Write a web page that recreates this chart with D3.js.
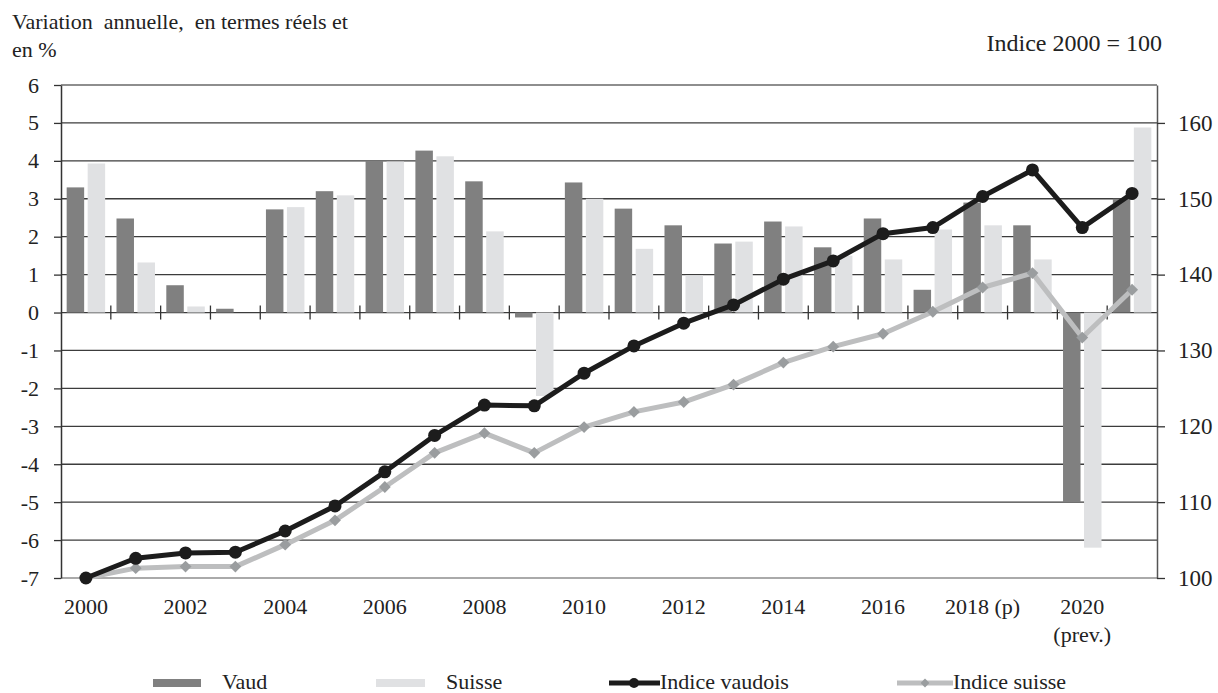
<!DOCTYPE html>
<html>
<head>
<meta charset="utf-8">
<script src="https://cdn.jsdelivr.net/npm/d3@7"></script>
<style>
  html, body { margin: 0; padding: 0; background: #fff; }
  svg { display: block; }
  text { font-family: "Liberation Serif", "Times New Roman", serif; fill: #222; }
</style>
</head>
<body>
<svg id="chart" width="1218" height="693"></svg>
<script>
// Annual real growth (%) and index 2000 = 100, Vaud vs Switzerland
const years = [2000, 2001, 2002, 2003, 2004, 2005, 2006, 2007, 2008, 2009, 2010,
               2011, 2012, 2013, 2014, 2015, 2016, 2017, 2018, 2019, 2020, 2021];
const vaudGrowth = [3.3, 2.48, 0.72, 0.1, 2.72, 3.2, 4.0, 4.27, 3.46, -0.13, 3.43,
                    2.74, 2.3, 1.82, 2.4, 1.72, 2.48, 0.6, 2.9, 2.3, -5.0, 3.0];
const suisseGrowth = [3.93, 1.32, 0.16, 0.0, 2.78, 3.09, 3.98, 4.12, 2.14, -2.2, 3.0,
                      1.68, 0.98, 1.87, 2.27, 1.5, 1.4, 2.19, 2.3, 1.4, -6.2, 4.88];
const indiceVaudois = [100, 102.6, 103.3, 103.4, 106.2, 109.5, 114.0, 118.8, 122.8, 122.7, 127.0,
                       130.6, 133.6, 136.0, 139.4, 141.8, 145.4, 146.2, 150.3, 153.8, 146.2, 150.7];
const indiceSuisse = [100, 101.3, 101.5, 101.5, 104.4, 107.6, 112.0, 116.5, 119.1, 116.5, 119.9,
                      121.9, 123.2, 125.5, 128.4, 130.5, 132.2, 135.1, 138.3, 140.2, 131.7, 138.0];
const leftTicks = [-7, -6, -5, -4, -3, -2, -1, 0, 1, 2, 3, 4, 5, 6];
const rightTicks = [100, 110, 120, 130, 140, 150, 160];
const xLabelYears = [2000, 2002, 2004, 2006, 2008, 2010, 2012, 2014, 2016, 2018, 2020];
const xLabelText = {2018: ["2018 (p)"], 2020: ["2020", "(prev.)"]};
const seriesNames = ["Vaud", "Suisse"];

const colors = { Vaud: "#808080", Suisse: "#e0e1e3", lineV: "#1c1c1c", lineS: "#bdbebf", diamond: "#9a9d9f" };

const svg = d3.select("#chart");
const L = 61, R = 1157, T = 85, B = 578;

const x = d3.scaleBand().domain(years).range([L, R]).paddingInner(0).paddingOuter(0);
const xs = d3.scaleBand().domain(seriesNames).range([0, x.bandwidth()]).paddingInner(0.167).paddingOuter(0.27);
const y = d3.scaleLinear().domain([-7, 6]).range([B, T]);
const y2 = d3.scaleLinear().domain([100, 165]).range([B, T]);

// Horizontal gridlines
svg.append("g").selectAll("line").data(leftTicks).join("line")
  .attr("x1", L).attr("x2", R)
  .attr("y1", d => y(d)).attr("y2", d => y(d))
  .attr("stroke", d => (d === 6 || d === -7) ? "#8e8e8e" : "#3c3c3c")
  .attr("stroke-width", d => d === 6 ? 2 : 1.3);

// Bars
const barData = [];
years.forEach((yr, i) => {
  barData.push({ year: yr, s: "Vaud", v: vaudGrowth[i] });
  barData.push({ year: yr, s: "Suisse", v: suisseGrowth[i] });
});
svg.append("g").selectAll("rect").data(barData).join("rect")
  .attr("x", d => x(d.year) + xs(d.s))
  .attr("width", xs.bandwidth())
  .attr("y", d => Math.min(y(d.v), y(0)))
  .attr("height", d => Math.abs(y(d.v) - y(0)))
  .attr("fill", d => colors[d.s]);

// Category separator ticks on the zero line
svg.append("g").selectAll("line").data(years.slice(1)).join("line")
  .attr("x1", d => x(d)).attr("x2", d => x(d))
  .attr("y1", y(0) - 7).attr("y2", y(0) + 7)
  .attr("stroke", "#333").attr("stroke-width", 1.3);

// Left axis
const axL = svg.append("g").attr("transform", `translate(${L},0)`)
  .call(d3.axisLeft(y).tickValues(leftTicks).tickSize(7).tickSizeOuter(0).tickPadding(15).tickFormat(d => String(d)));
axL.attr("font-family", null);
axL.select(".domain").attr("stroke", "#333").attr("stroke-width", 1.5);
axL.selectAll(".tick line").attr("stroke", "#333").attr("stroke-width", 1.3);
axL.selectAll("text").style("font-size", "22px").attr("fill", "#222");

// Right axis
const axR = svg.append("g").attr("transform", `translate(${R},0)`)
  .call(d3.axisRight(y2).tickValues(rightTicks).tickSize(8).tickSizeOuter(0).tickPadding(13).tickFormat(d => String(d)));
axR.attr("font-family", null);
axR.select(".domain").attr("stroke", "#555").attr("stroke-width", 1.5);
axR.selectAll(".tick line").attr("stroke", "#333").attr("stroke-width", 1.3);
axR.selectAll("text").style("font-size", "23px").attr("fill", "#222");

// Bottom category labels
const xl = svg.append("g");
xLabelYears.forEach(yr => {
  const lines = xLabelText[yr] || [String(yr)];
  const t = xl.append("text")
    .attr("text-anchor", "middle")
    .style("font-size", "22px");
  lines.forEach((ln, k) => {
    t.append("tspan").attr("x", x(yr) + x.bandwidth() / 2).attr("y", 614 + k * 28).text(ln);
  });
});

// Index lines
const lineGen = d3.line().x((d, i) => x(years[i]) + x.bandwidth() / 2).y(d => y2(d));
svg.append("path").datum(indiceSuisse)
  .attr("d", lineGen).attr("fill", "none")
  .attr("stroke", colors.lineS).attr("stroke-width", 5).attr("stroke-linejoin", "round");
svg.append("g").selectAll("path").data(indiceSuisse).join("path")
  .attr("d", d3.symbol(d3.symbolDiamond2, 90))
  .attr("transform", (d, i) => `translate(${x(years[i]) + x.bandwidth() / 2},${y2(d)})`)
  .attr("fill", colors.diamond);

svg.append("path").datum(indiceVaudois)
  .attr("d", lineGen).attr("fill", "none")
  .attr("stroke", colors.lineV).attr("stroke-width", 5).attr("stroke-linejoin", "round");
svg.append("g").selectAll("circle").data(indiceVaudois).join("circle")
  .attr("cx", (d, i) => x(years[i]) + x.bandwidth() / 2)
  .attr("cy", d => y2(d))
  .attr("r", 6.5)
  .attr("fill", colors.lineV);

// Titles
svg.append("text").attr("x", 12).attr("y", 29).style("font-size", "22px")
  .style("white-space", "pre").attr("xml:space", "preserve")
  .text("Variation  annuelle,  en termes réels et");
svg.append("text").attr("x", 12).attr("y", 57).style("font-size", "22px").text("en %");
svg.append("text").attr("x", 1162).attr("y", 51).attr("text-anchor", "end")
  .style("font-size", "24px").text("Indice 2000 = 100");

// Legend
const lg = svg.append("g");
const ly = 683;
const lt = 689;
lg.append("rect").attr("x", 153).attr("y", ly - 4).attr("width", 48).attr("height", 8).attr("fill", colors.Vaud);
lg.append("text").attr("x", 222).attr("y", lt).style("font-size", "22px").text("Vaud");
lg.append("rect").attr("x", 376).attr("y", ly - 4).attr("width", 49).attr("height", 8).attr("fill", colors.Suisse);
lg.append("text").attr("x", 446).attr("y", lt).style("font-size", "22px").text("Suisse");
lg.append("line").attr("x1", 609).attr("x2", 660).attr("y1", ly).attr("y2", ly)
  .attr("stroke", colors.lineV).attr("stroke-width", 5);
lg.append("circle").attr("cx", 634).attr("cy", ly).attr("r", 5).attr("fill", colors.lineV);
lg.append("text").attr("x", 660).attr("y", lt).style("font-size", "22px").text("Indice vaudois");
lg.append("line").attr("x1", 897).attr("x2", 953).attr("y1", ly).attr("y2", ly)
  .attr("stroke", colors.lineS).attr("stroke-width", 5);
lg.append("path").attr("d", d3.symbol(d3.symbolDiamond2, 50))
  .attr("transform", `translate(925,${ly})`).attr("fill", colors.diamond);
lg.append("text").attr("x", 953).attr("y", lt).style("font-size", "22px").text("Indice suisse");
</script>
</body>
</html>
